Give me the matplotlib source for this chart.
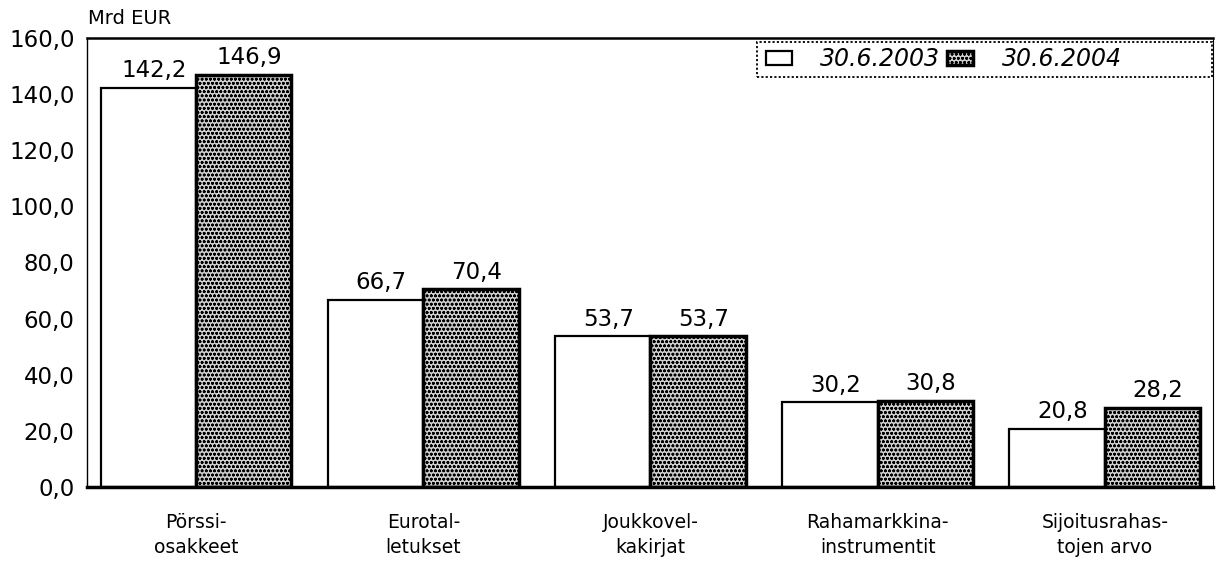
import numpy as np
import matplotlib
matplotlib.use("Agg")
from matplotlib import pyplot as plt
from matplotlib.patches import Rectangle

plt.rcParams['font.family'] = ['DejaVu Sans']
plt.rcParams['hatch.linewidth'] = 0.8

categories = ["Pörssi-\nosakkeet", "Eurotal-\nletukset", "Joukkovel-\nkakirjat",
              "Rahamarkkina-\ninstrumentit", "Sijoitusrahas-\ntojen arvo"]
v2003 = [142.2, 66.7, 53.7, 30.2, 20.8]
v2004 = [146.9, 70.4, 53.7, 30.8, 28.2]
series_names = ["30.6.2003", "30.6.2004"]
yticks = [0, 20, 40, 60, 80, 100, 120, 140, 160]

fig = plt.figure(figsize=(12.17, 5.63), dpi=100)
ax = fig.add_axes([0.0715, 0.135, 0.925, 0.7975])

x = np.arange(len(categories))
w = 0.42
b1 = ax.bar(x - w/2, v2003, w, color='white', edgecolor='black', linewidth=1.6,
            label=series_names[0])
b2 = ax.bar(x + w/2, v2004, w, color='#cfcfcf', edgecolor='black', linewidth=2.5,
            hatch='oooo', label=series_names[1])

def fmt(v):
    return f"{v:.1f}".replace('.', ',')

for bars, vals in ((b1, v2003), (b2, v2004)):
    for b, v in zip(bars, vals):
        ax.annotate(fmt(v), (b.get_x() + b.get_width()/2, v), xytext=(4, 4),
                    textcoords='offset points', ha='center', va='bottom', fontsize=16.5)

ax.set_ylim(0, 160)
ax.set_xlim(-0.48, 4.475)
ax.set_yticks(yticks)
ax.set_yticklabels([fmt(t) for t in yticks], fontsize=16.5)
ax.set_xticks(x)
ax.set_xticklabels(categories, fontsize=13.5, linespacing=1.4)
ax.tick_params(axis='x', length=0, pad=19)
ax.tick_params(axis='y', length=0, pad=9)
ax.spines['left'].set_linewidth(1.0)
ax.spines['right'].set_linewidth(0.8)
ax.spines['bottom'].set_linewidth(2.5)
ax.spines['top'].set_linewidth(1.8)

ax.text(0.001, 1.023, "Mrd EUR", transform=ax.transAxes, fontsize=14, ha='left', va='bottom')

leg = ax.legend(loc='upper left', bbox_to_anchor=(0.598, 0.993), ncol=2,
                prop={'style': 'italic', 'size': 17}, frameon=False,
                borderaxespad=0, handlelength=1.1, handleheight=0.55,
                columnspacing=0.3, handletextpad=1.2, borderpad=0.25)
ax.add_patch(Rectangle((0.595, 0.913), 0.404, 0.078, transform=ax.transAxes,
                       fill=False, edgecolor='black', linewidth=1.3,
                       linestyle=(0, (1.2, 1.2)), clip_on=False))

fig.savefig("out.png", dpi=100)
